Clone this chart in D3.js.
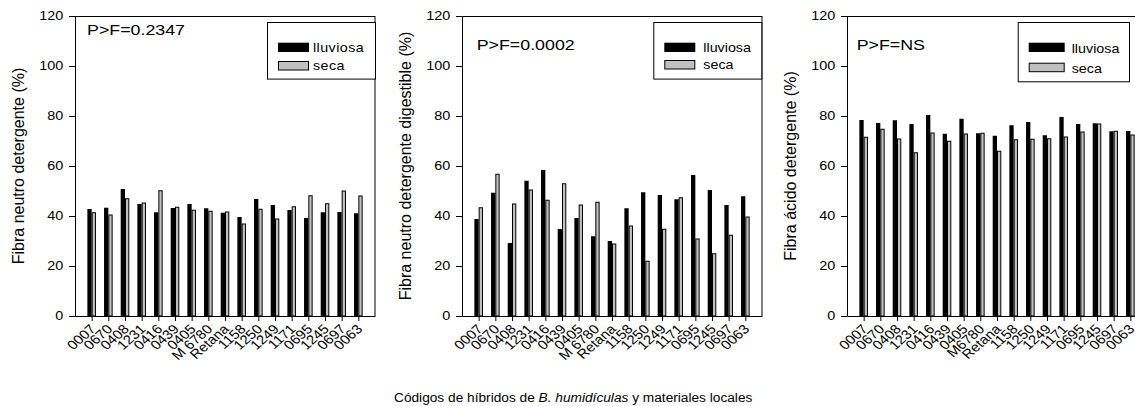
<!DOCTYPE html>
<html>
<head>
<meta charset="utf-8">
<script src="https://cdn.jsdelivr.net/npm/d3@7"></script>
<style>
  body { margin: 0; background: #fff; }
  text { font-family: "Liberation Sans", Arial, sans-serif; fill: #000; }
</style>
</head>
<body>
<div id="chart-area"></div>
<script>
// --- Data ---
var codes = ["0007", "0670", "0408", "1231", "0416", "0439", "0405", "M 6780", "Retana",
             "1158", "1250", "1249", "1171", "0695", "1245", "0697", "0063"];
var codesFad = ["0007", "0670", "0408", "1231", "0416", "0439", "0405", "M6780", "Retana",
                "1158", "1250", "1249", "1171", "0695", "1245", "0697", "0063"];
var seasons = ["lluviosa", "seca"];
var yTicks = [0, 20, 40, 60, 80, 100, 120];

// Fibra neutro detergente (%)
var fndLluviosa = [42.8, 43.3, 50.8, 44.8, 41.5, 43.2, 44.8, 43.1, 41.3, 39.6, 46.8, 44.4, 42.4, 39.2, 41.5, 41.6, 41.1];
var fndSeca     = [41.3, 40.4, 46.9, 45.2, 50.1, 43.5, 42.3, 41.9, 41.6, 36.8, 42.7, 38.8, 43.7, 48.1, 44.9, 50.0, 48.0];
// Fibra neutro detergente digestible (%)
var fnddLluviosa = [38.8, 49.3, 29.2, 54.1, 58.4, 34.8, 39.2, 31.9, 30.0, 43.1, 49.5, 48.4, 46.7, 56.4, 50.4, 44.4, 47.9];
var fnddSeca     = [43.3, 56.7, 44.8, 50.4, 46.3, 52.9, 44.4, 45.5, 28.8, 36.0, 21.9, 34.7, 47.3, 30.8, 24.9, 32.3, 39.6];
// Fibra acido detergente (%)
var fadLluviosa = [78.4, 77.2, 78.3, 76.8, 80.4, 72.9, 78.9, 73.1, 72.1, 76.3, 77.6, 72.3, 79.6, 76.8, 77.1, 73.9, 74.0];
var fadSeca     = [71.5, 74.7, 70.8, 65.3, 73.2, 69.9, 72.8, 73.1, 65.9, 70.5, 70.7, 70.9, 71.6, 73.6, 76.8, 73.9, 72.4];

// --- Panel setup ---
var panels = [
  {left: 75,  cats: codes,    wet: fndLluviosa,  dry: fndSeca,  pf: "P>F=0.2347", pfX: 12, pfY: 35,
   label: "Fibra neutro detergente (%)",
   legend: {x: 192, y: 6, w: 109, h: 56.6, sw: 31, r1: 20.7, r2: 39, tx: 238, b1: 30, b2: 48, ls: 0.4}},
  {left: 462, cats: codes,    wet: fnddLluviosa, dry: fnddSeca, pf: "P>F=0.0002", pfX: 14.7, pfY: 50,
   label: "Fibra neutro detergente digestible (%)",
   legend: {x: 191.3, y: 6, w: 109, h: 56.6, sw: 31, r1: 20.7, r2: 38, tx: 241.3, b1: 30, b2: 47, ls: 0}},
  {left: 847, cats: codesFad, wet: fadLluviosa,  dry: fadSeca,  pf: "P>F=NS",     pfX: 9.7, pfY: 50,
   label: "Fibra \u00e1cido detergente (%)",
   legend: {x: 170.7, y: 6, w: 112.3, h: 59.3, sw: 36, r1: 20.7, r2: 40.7, tx: 224.7, b1: 30.7, b2: 50.7, ls: 0}}
];

var marginTop = 16, width = 300, height = 300, barW = 4.3;

var svg = d3.select("#chart-area").append("svg")
    .attr("width", 1135)
    .attr("height", 406)
    .style("display", "block");

function stretched(g, x, y, str, size, anchor, sx) {
    return g.append("text")
        .attr("transform", "translate(" + x + "," + y + ") scale(" + sx + ",1)")
        .attr("text-anchor", anchor)
        .attr("font-size", size)
        .text(str);
}

panels.forEach(function(p) {
    var g = svg.append("g")
        .attr("transform", "translate(" + p.left + "," + marginTop + ")");

    var x = d3.scalePoint().domain(p.cats).range([0, width]).padding(1);
    var y = d3.scaleLinear().domain([0, 120]).range([height, 0]);

    // bars
    var rows = p.cats.map(function(c, i) { return {cat: c, wet: p.wet[i], dry: p.dry[i]}; });
    g.selectAll(".wet").data(rows).enter().append("rect")
        .attr("class", "wet")
        .attr("x", function(d) { return x(d.cat) - barW; })
        .attr("y", function(d) { return y(d.wet); })
        .attr("width", barW)
        .attr("height", function(d) { return y(0) - y(d.wet); })
        .attr("fill", "#000");
    g.selectAll(".dry").data(rows).enter().append("rect")
        .attr("class", "dry")
        .attr("x", function(d) { return x(d.cat) + 0.5; })
        .attr("y", function(d) { return y(d.dry); })
        .attr("width", barW - 1)
        .attr("height", function(d) { return y(0) - y(d.dry); })
        .attr("fill", "#c0c0c0")
        .attr("stroke", "#000")
        .attr("stroke-width", 1);

    // frame top & right
    g.append("line").attr("x1", 0).attr("x2", width).attr("y1", 0.5).attr("y2", 0.5)
        .attr("stroke", "#000");
    g.append("line").attr("x1", width).attr("x2", width).attr("y1", 0).attr("y2", height)
        .attr("stroke", "#000");

    // y axis
    var yAxis = g.append("g").call(d3.axisLeft(y).tickValues(yTicks).tickSize(6).tickSizeOuter(0));
    yAxis.attr("font-family", null);
    yAxis.selectAll("text")
        .attr("font-size", 12)
        .attr("x", -11.7 / 1.2)
        .attr("transform", "scale(1.2,1)");

    // x axis
    var xAxis = g.append("g")
        .attr("transform", "translate(0," + height + ")")
        .call(d3.axisBottom(x).tickSize(5).tickSizeOuter(0));
    xAxis.attr("font-family", null);
    xAxis.selectAll("text")
        .attr("font-size", 13)
        .attr("x", 0).attr("y", 0).attr("dy", 0)
        .attr("text-anchor", "end")
        .attr("transform", "translate(4.5,14) scale(1.15,1) rotate(-45)");

    // y label
    g.append("text")
        .attr("transform", "translate(-51," + (height / 2) + ") rotate(-90)")
        .attr("text-anchor", "middle")
        .attr("font-size", 16)
        .text(p.label);

    // P>F
    stretched(g, p.pfX, p.pfY - marginTop, p.pf, 15.5, "start", 1.15);

    // legend
    var L = p.legend;
    var lg = g.append("g").attr("transform", "translate(" + L.x + "," + L.y + ")");
    lg.append("rect").attr("x", 0.5).attr("y", 0.5).attr("width", L.w - 1).attr("height", L.h)
        .attr("fill", "#fff").attr("stroke", "#000");
    lg.append("rect").attr("x", 11).attr("y", L.r1).attr("width", L.sw).attr("height", 9.3)
        .attr("fill", "#000");
    lg.append("rect").attr("x", 11.5).attr("y", L.r2 + 0.5).attr("width", L.sw - 1).attr("height", 8.5)
        .attr("fill", "#c0c0c0").attr("stroke", "#000");
    stretched(lg, L.tx - L.x, L.b1, seasons[0], 13, "start", 1.1).attr("letter-spacing", L.ls);
    stretched(lg, L.tx - L.x, L.b2, seasons[1], 13, "start", 1.1).attr("letter-spacing", L.ls);
});

// caption
var cap = svg.append("text")
    .attr("x", 394)
    .attr("y", 402)
    .attr("font-size", 13.7);
cap.append("tspan").text("C\u00f3digos de h\u00edbridos de ");
cap.append("tspan").attr("font-style", "italic").text("B. humid\u00edculas");
cap.append("tspan").text(" y materiales locales");
</script>
</body>
</html>
